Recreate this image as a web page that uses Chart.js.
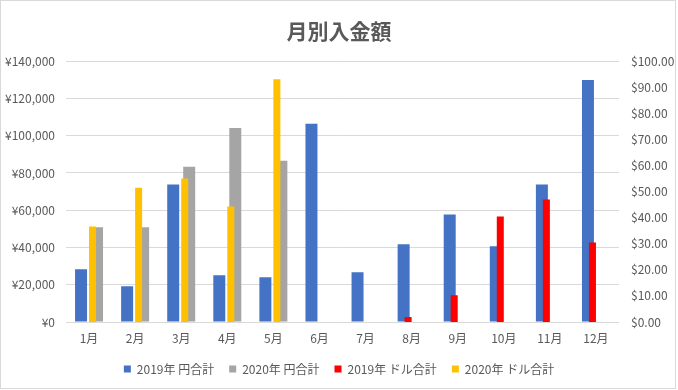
<!DOCTYPE html>
<html lang="ja">
<head>
<meta charset="utf-8">
<title>月別入金額</title>
<script src="https://cdn.jsdelivr.net/npm/chart.js@4/dist/chart.umd.min.js"></script>
<style>
    body { margin: 0; background: #fff; }
    canvas { display: block; }
</style>
</head>
<body>
<canvas id="chart" width="678" height="390"></canvas>
<script>
// データ
const months = ["1月", "2月", "3月", "4月", "5月", "6月", "7月", "8月", "9月", "10月", "11月", "12月"];
const yen2019 = [28300, 19200, 73800, 25100, 24000, 106400, 26700, 41700, 57700, 40600, 73800, 129900];
const yen2020 = [50800, 50800, 83400, 104200, 86600, null, null, null, null, null, null, null];
const usd2019 = [null, null, null, null, null, null, null, 1.9, 10.3, 40.5, 47.0, 30.5];
const usd2020 = [36.6, 51.5, 55.0, 44.3, 93.1, null, null, null, null, null, null, null];

const seriesLabels = ["2019年 円合計", "2020年 円合計", "2019年 ドル合計", "2020年 ドル合計"];
const yenTicks = { min: 0, max: 140000, step: 20000 };
const usdTicks = { min: 0, max: 100, step: 10 };

const textColor = "#595959";
const gridColor = "#d9d9d9";

Chart.defaults.font.family = "'Noto Sans CJK JP', 'Noto Sans', sans-serif";
Chart.defaults.font.size = 12;
Chart.defaults.color = textColor;

// 背景と外枠
const frame = {
    id: "frame",
    beforeDraw(chart) {
        const ctx = chart.ctx;
        ctx.save();
        ctx.fillStyle = "#fff";
        ctx.fillRect(0, 0, chart.width, chart.height);
        ctx.restore();
    },
    afterDraw(chart) {
        const ctx = chart.ctx;
        ctx.save();
        ctx.strokeStyle = gridColor;
        ctx.lineWidth = 1;
        ctx.strokeRect(0.5, 0.5, 675, 388);
        ctx.restore();
    }
};

// 2019年は左側 (stack "a")、2020年は右側 (stack "b")
// 円系列は太め、ドル系列は細めで中央に重ねる
const yenBar = { yAxisID: "y", categoryPercentage: 0.694, barPercentage: 0.75, order: 1 };
const usdBar = { yAxisID: "y2", categoryPercentage: 0.304, barPercentage: 1.0, order: 0 };

new Chart(document.getElementById("chart"), {
    type: "bar",
    data: {
        labels: months,
        datasets: [
            { ...yenBar, stack: "a", label: seriesLabels[0], data: yen2019, backgroundColor: "#4472C4" },
            { ...yenBar, stack: "b", label: seriesLabels[1], data: yen2020, backgroundColor: "#A5A5A5" },
            { ...usdBar, stack: "a", label: seriesLabels[2], data: usd2019, backgroundColor: "#FF0000" },
            { ...usdBar, stack: "b", label: seriesLabels[3], data: usd2020, backgroundColor: "#FFC000" }
        ]
    },
    options: {
        responsive: false,
        animation: false,
        devicePixelRatio: 1,
        layout: { padding: { left: 0, right: 0, top: 0, bottom: 5 } },
        scales: {
            x: {
                offset: true,
                grid: { display: false },
                border: { display: false },
                ticks: { padding: 1, color: textColor },
                afterFit: s => { s.height = 26; }
            },
            y: {
                position: "left",
                min: yenTicks.min,
                max: yenTicks.max,
                border: { display: false },
                grid: { color: gridColor, drawTicks: false },
                ticks: {
                    stepSize: yenTicks.step,
                    padding: 11,
                    color: textColor,
                    callback: v => "¥" + v.toLocaleString("en-US")
                },
                afterFit: s => { s.width = 66; }
            },
            y2: {
                position: "right",
                min: usdTicks.min,
                max: usdTicks.max,
                border: { display: false },
                grid: { display: false, drawTicks: false },
                ticks: {
                    stepSize: usdTicks.step,
                    padding: 12,
                    color: textColor,
                    callback: v => "$" + v.toFixed(2)
                },
                afterFit: s => { s.width = 59; }
            }
        },
        plugins: {
            title: {
                display: true,
                text: "月別入金額",
                color: textColor,
                font: { size: 21, weight: "bold" },
                padding: { top: 18, bottom: 18 }
            },
            legend: {
                position: "bottom",
                labels: {
                    boxWidth: 7,
                    boxHeight: 7,
                    padding: 15,
                    color: textColor,
                    sort: (a, b) => a.datasetIndex - b.datasetIndex
                }
            },
            tooltip: { enabled: false }
        }
    },
    plugins: [frame]
});
</script>
</body>
</html>
